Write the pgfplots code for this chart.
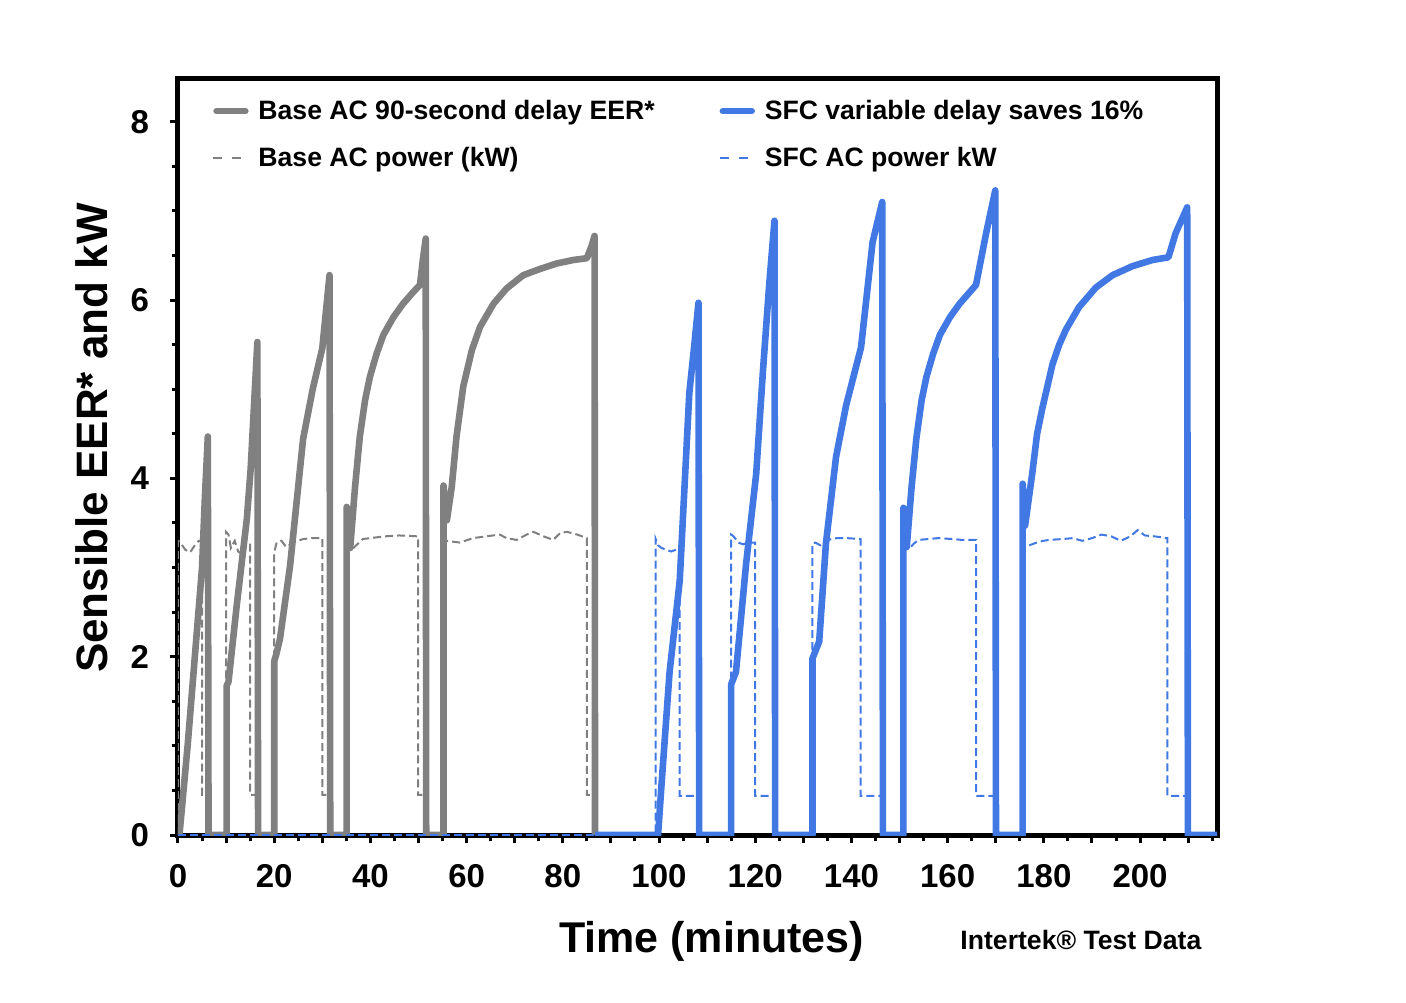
\documentclass[border=0pt]{standalone}
\usepackage{fontspec}
\setmainfont{Liberation Sans}
\usepackage{pgfplots}
\pgfplotsset{compat=1.18}
\definecolor{basegray}{RGB}{128,128,128}
\definecolor{sfcblue}{RGB}{65,120,228}
\pgfplotsset{
  eerleg/.style={legend image code/.code={\draw[##1, line cap=round] (1.6pt,0pt) -- (16pt,0pt); \path (18.9pt,0pt);}},
  pwrleg/.style={legend image code/.code={\draw[##1, solid] (0pt,0pt)--(4.5pt,0pt) (9.5pt,0pt)--(14pt,0pt);}},
}
\begin{document}
\begin{tikzpicture}
\path[use as bounding box] (-89pt,-83.5pt) rectangle (614pt,417.5pt);
\begin{axis}[
  at={(0pt,0pt)}, anchor=south west,
  scale only axis, width=519.5pt, height=378pt,
  xmin=0, xmax=216, ymin=0, ymax=8.48,
  xtick={0,20,...,200}, ytick={0,2,...,8},
  minor xtick={0,5,...,215}, minor ytick={0,0.5,...,8},
  extra x ticks={10,30,...,210}, extra x tick labels={},
  extra x tick style={major tick length=4pt},
  tick align=outside, xtick pos=bottom, ytick pos=left,
  major tick length=4pt, minor tick length=3.2pt,
  tick style={line width=1.5pt, black},
  axis line style={line width=2.5pt, black},
  tick label style={font=\bfseries\fontsize{16.5}{18}\selectfont},
  yticklabel style={xshift=-7pt},
  xticklabel style={yshift=-7pt},
  /pgf/number format/assume math mode=true,
  xlabel={Time (minutes)}, ylabel={Sensible EER* and kW},
  xlabel style={font=\bfseries\fontsize{21.5}{24}\selectfont, at={(axis description cs:0.5135,-0.141)}, anchor=center},
  ylabel style={font=\bfseries\fontsize{22}{24}\selectfont, at={(axis description cs:-0.083,0.525)}, anchor=center},
  clip mode=individual,
  legend columns=2,
  legend cell align=left,
  legend style={at={(axis description cs:0.0327,0.978)}, anchor=north west,
    draw=none, fill=none, inner sep=0pt,
    font=\bfseries\fontsize{13.3}{15}\selectfont,
    /tikz/every even column/.append style={column sep=30pt},
    row sep=8.5pt},
]
\addplot[basegray, line width=3.3pt, line join=round, eerleg]
coordinates {
(0.3,0) (2,1.0) (5.0,3.0) (5.6,3.8) (6.2,4.47) (6.35,0) (10.1,0) (10.1,1.67) (10.5,1.72) (12.2,2.57) (14.3,3.54) (15.1,4.1) (16.5,5.53) (16.65,0) (20.0,0) (20.0,1.95) (20.4,2.02) (21.2,2.2) (23.3,3.02) (26.0,4.44) (28,5.0) (30.0,5.46) (31.5,6.28) (31.65,0)
(35.07,0) (35.07,3.68) (35.8,3.22) (36.8,3.90) (37.8,4.47) (38.9,4.88) (39.9,5.14) (41.3,5.40) (42.7,5.61) (44.8,5.81) (46.8,5.96) (48.9,6.09) (50.3,6.17) (50.9,6.45) (51.5,6.69) (51.6,0)
(55.2,0) (55.2,3.92) (55.9,3.53) (56.9,3.90) (57.9,4.47) (59.3,5.03) (61.1,5.44) (62.8,5.70) (65.6,5.96) (68.3,6.13) (71.8,6.28) (75.3,6.35) (78.7,6.41) (82.2,6.45) (85.0,6.47) (86.0,6.61) (86.6,6.72) (86.7,0)
};
\addlegendentry{Base AC 90-second delay EER*}
\addplot[sfcblue, line width=3.3pt, line join=round, eerleg]
coordinates {
(86.7,0) (99.8,0) (100.5,0.55) (102.2,1.83) (104.3,2.85) (106.3,4.96) (107.4,5.53) (108.2,5.97) (108.35,0) (115.0,0) (115.0,1.69) (116.0,1.83) (118.1,3.04) (120.2,4.05) (121.6,5.2) (122.9,6.17) (124.0,6.89) (124.15,0) (131.9,0) (131.9,1.98) (133.3,2.17) (134.7,3.27) (136.8,4.24) (138.9,4.82) (142.0,5.47) (144.4,6.65) (146.4,7.1) (146.55,0)
(150.8,0) (150.8,3.67) (151.5,3.23) (152.5,3.90) (153.5,4.45) (154.6,4.88) (155.6,5.14) (157.0,5.40) (158.4,5.61) (160.5,5.81) (162.5,5.96) (164.6,6.09) (165.9,6.17) (168.0,6.75) (169.9,7.23) (170.05,0)
(175.6,0) (175.6,3.94) (176.1,3.47) (177.6,4.06) (178.6,4.50) (179.7,4.79) (181.8,5.28) (183.2,5.50) (184.6,5.67) (187.3,5.92) (190.8,6.14) (194.3,6.28) (198.4,6.38) (202.6,6.45) (205.9,6.48) (207.4,6.75) (209.8,7.04) (209.95,0) (216,0)
};
\addlegendentry{SFC variable delay saves 16\%}
\addplot[basegray, line width=1pt, dash pattern=on 4pt off 2pt, pwrleg]
coordinates {
(0,0) (0,3.3) (0.5,3.28) (1.5,3.2) (2.5,3.17) (3.5,3.25) (4.3,3.3) (5.0,3.3) (5.0,0.45) (6.3,0.45) (6.3,0) (10.0,0) (10.0,3.4) (10.5,3.37) (11,3.22) (11.8,3.3) (12.5,3.18) (13.3,3.15) (14,3.27) (15,3.27) (15,0.45) (16.5,0.45) (16.5,0) (20,0) (20,3.17) (20.5,3.28) (21.5,3.3) (22.5,3.23) (24,3.28) (26,3.32) (28,3.33) (30,3.33) (30,0.45) (31.5,0.45) (31.5,0) (35.1,0) (35.1,3.2) (36.5,3.22) (38.4,3.32) (40,3.33) (43,3.35) (46,3.36) (49.9,3.35) (49.9,0.45) (51.4,0.45) (51.4,0) (55.2,0) (55.2,3.3) (55.8,3.3) (58.6,3.28) (61.3,3.33) (64.1,3.35) (66.9,3.37) (68.3,3.33) (70.4,3.31) (72.5,3.37) (73.9,3.4) (76,3.35) (78,3.31) (79.5,3.39) (80.9,3.4) (83,3.37) (85,3.33) (85,0.45) (86.5,0.45) (86.5,0)
};
\addlegendentry{Base AC power (kW)}
\addplot[sfcblue, line width=1pt, dash pattern=on 4pt off 2pt, pwrleg]
coordinates {
(0,0) (99.3,0) (99.3,3.32) (99.8,3.25) (100.5,3.22) (101.5,3.2) (102.5,3.18) (103.5,3.2) (104.3,3.2) (104.3,0.44) (108.2,0.44) (108.2,0) (115,0) (115,3.37) (115.5,3.35) (116.5,3.28) (117.5,3.26) (118.5,3.28) (120,3.28) (120,0.44) (124,0.44) (124,0) (131.9,0) (131.9,3.27) (132.5,3.28) (133.5,3.25) (135,3.31) (137,3.33) (139,3.33) (141.9,3.32) (141.9,0.44) (146.4,0.44) (146.4,0) (150.9,0) (150.9,3.22) (152,3.21) (153,3.27) (154,3.31) (156,3.32) (158,3.33) (161,3.32) (163,3.31) (165.9,3.31) (165.9,0.44) (169.9,0.44) (169.9,0) (175.7,0) (175.7,3.27) (177,3.25) (179,3.29) (181,3.31) (184,3.32) (186,3.33) (188,3.3) (190,3.33) (192,3.37) (194,3.35) (196,3.3) (198,3.35) (199.5,3.42) (201,3.36) (203,3.35) (205.7,3.33) (205.7,0.44) (209.9,0.44) (209.9,0) (216,0)
};
\addlegendentry{SFC AC power kW}
\node[font=\bfseries\fontsize{13.3}{15}\selectfont] at (rel axis cs:0.869,-0.1385) {Intertek® Test Data};
\end{axis}
\end{tikzpicture}
\end{document}
